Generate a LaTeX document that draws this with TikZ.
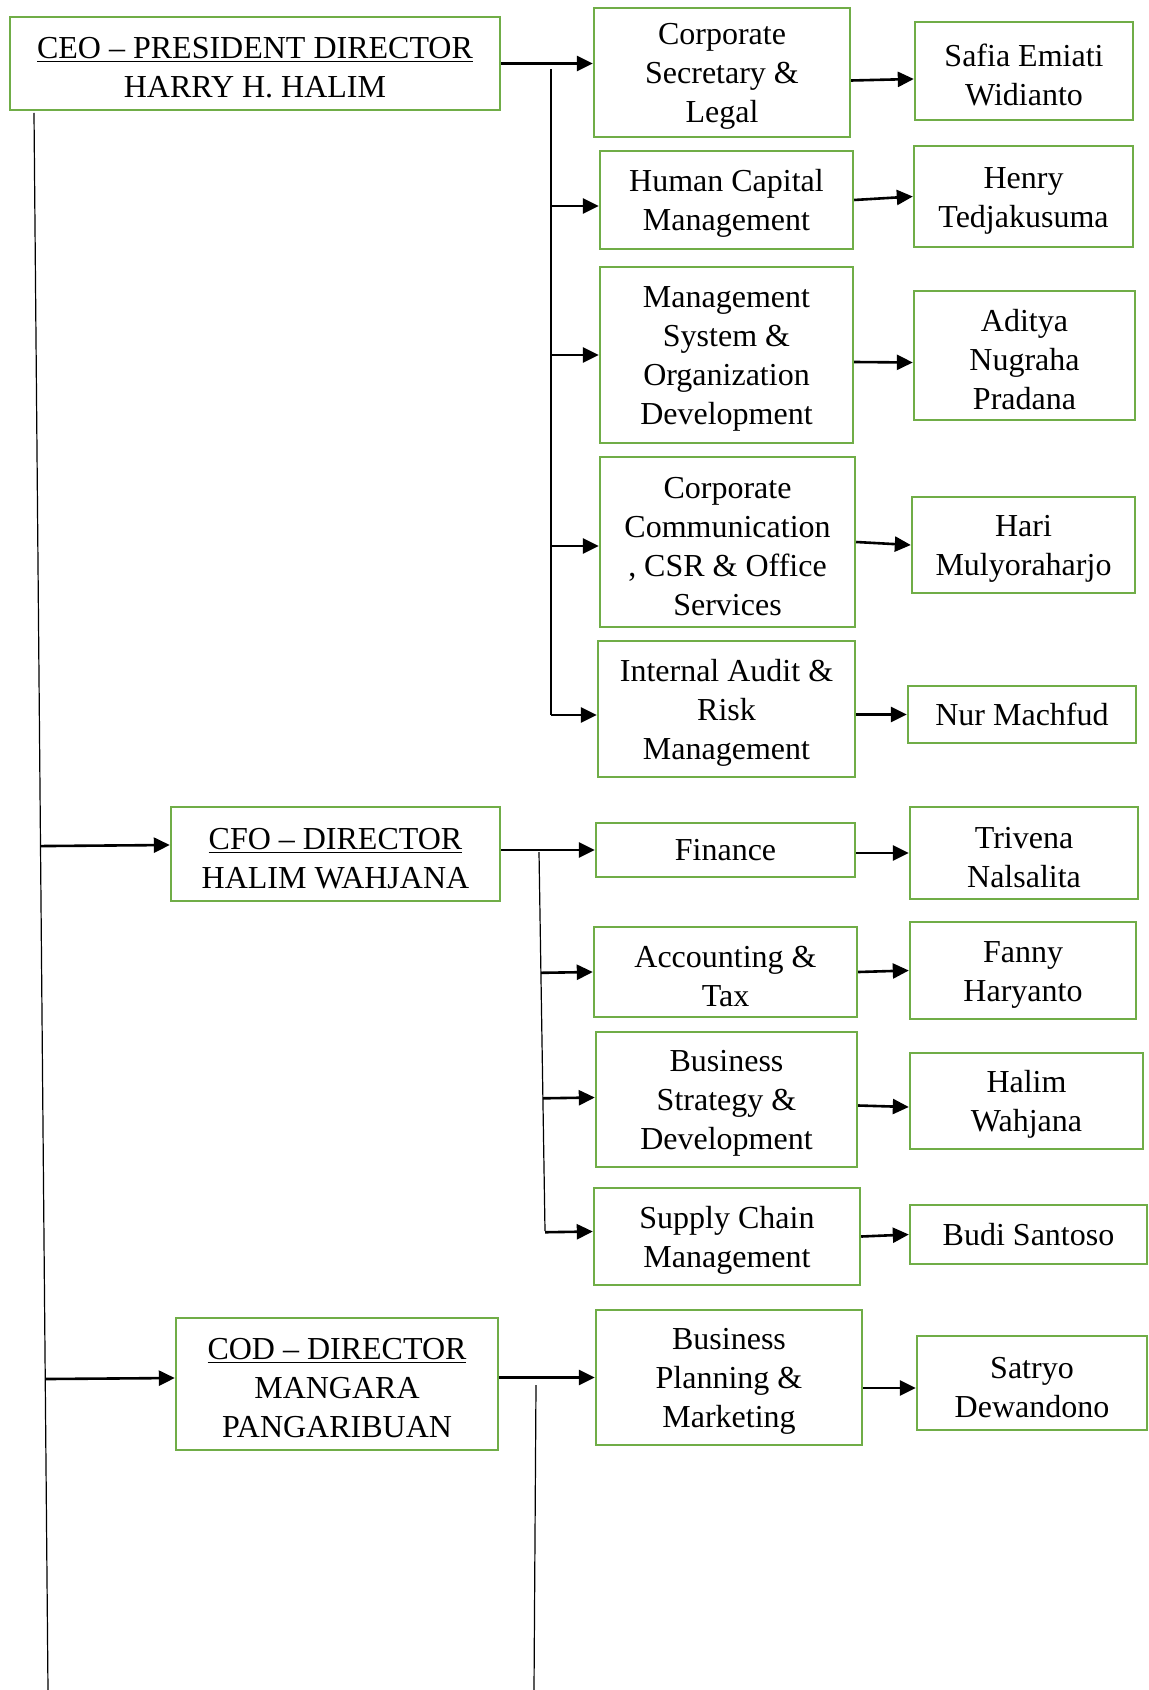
\documentclass[tikz,border=0pt]{standalone}
\usepackage{fontspec}
\setmainfont{Liberation Serif}
\usetikzlibrary{arrows.meta,calc}
\definecolor{boxgreen}{HTML}{70AD47}
\newcommand{\tstrut}{\rule{0pt}{14.8pt}}

\tikzset{
  box/.style={draw=boxgreen,line width=1.2pt,align=center,inner sep=0pt,font=\fontsize{16}{19.5}\selectfont},
  arr/.style={-{Triangle[length=8pt,width=7.5pt]},line width=1.3pt},
  trunk/.style={line width=0.6pt}
}

\begin{document}
\begin{tikzpicture}[x=0.5pt,y=-0.5pt]
\useasboundingbox (0,0) rectangle (1149,1690);

% Directors
\node[box,minimum width=245pt,minimum height=46.5pt] (ceo) at (255,63.5) {\tstrut\underline{CEO -- PRESIDENT DIRECTOR}\\HARRY H. HALIM};
\node[box,minimum width=164.5pt,minimum height=47pt] (cfo) at (335.5,854) {\tstrut\underline{CFO -- DIRECTOR}\\HALIM WAHJANA};
\node[box,minimum width=161pt,minimum height=66pt] (cod) at (337,1384) {\tstrut\underline{COD -- DIRECTOR}\\MANGARA\\PANGARIBUAN};

% CEO units
\node[box,minimum width=128pt,minimum height=64.5pt] (corpsec) at (722,72.5) {\tstrut Corporate\\Secretary \&\\Legal};
\node[box,minimum width=126.5pt,minimum height=49pt] (hcm) at (726.5,200) {\tstrut Human Capital\\Management};
\node[box,minimum width=126.5pt,minimum height=88pt] (msod) at (726.5,355) {\tstrut Management\\System \&\\Organization\\Development};
\node[box,minimum width=127.5pt,minimum height=85pt] (ccsr) at (727.5,542) {\tstrut Corporate\\Communication\\, CSR \& Office\\Services};
\node[box,minimum width=128.5pt,minimum height=68pt] (iarm) at (726.5,709) {\tstrut Internal Audit \&\\Risk\\Management};

% CEO unit heads
\node[box,minimum width=109pt,minimum height=49pt] (safia) at (1024,71) {\tstrut Safia Emiati\\Widianto};
\node[box,minimum width=109.5pt,minimum height=50.5pt] (henry) at (1023.5,196.5) {\tstrut Henry\\Tedjakusuma};
\node[box,minimum width=110.5pt,minimum height=64.5pt] (aditya) at (1024.5,355.5) {\tstrut Aditya\\Nugraha\\Pradana};
\node[box,minimum width=111.5pt,minimum height=48pt] (hari) at (1023.5,545) {\tstrut Hari\\Mulyoraharjo};
\node[box,minimum width=114pt,minimum height=28.5pt] (nur) at (1022,714.5) {Nur Machfud};

% CFO units
\node[box,minimum width=129.5pt,minimum height=27pt] (finance) at (725.5,850) {Finance};
\node[box,minimum width=131.5pt,minimum height=45pt] (acct) at (725.5,972) {\tstrut Accounting \&\\Tax};
\node[box,minimum width=130.5pt,minimum height=67.5pt] (bsd) at (726.5,1099.5) {\tstrut Business\\Strategy \&\\Development};
\node[box,minimum width=133pt,minimum height=48.5pt] (scm) at (727,1236.5) {\tstrut Supply Chain\\Management};

% CFO unit heads
\node[box,minimum width=114pt,minimum height=46pt] (trivena) at (1024,853) {\tstrut Trivena\\Nalsalita};
\node[box,minimum width=113pt,minimum height=48.5pt] (fanny) at (1023,970.5) {\tstrut Fanny\\Haryanto};
\node[box,minimum width=116.5pt,minimum height=48pt] (halim) at (1026.5,1101) {\tstrut Halim\\Wahjana};
\node[box,minimum width=118.5pt,minimum height=29.5pt] (budi) at (1028.5,1234.5) {Budi Santoso};

% COD unit and head
\node[box,minimum width=133pt,minimum height=67.5pt] (bpm) at (729,1377.5) {\tstrut Business\\Planning \&\\Marketing};
\node[box,minimum width=115pt,minimum height=47pt] (satryo) at (1032,1383) {\tstrut Satryo\\Dewandono};

% Main trunk
\coordinate (ltop) at (34,113);
\coordinate (lbot) at (48,1690);
\draw[trunk] (ltop) -- (lbot);
\draw[arr] ($(ltop)!([yshift=4.5pt]cfo.west)!(lbot)$) -- ([yshift=4.5pt]cfo.west);
\draw[arr] ($(ltop)!([yshift=3pt]cod.west)!(lbot)$) -- ([yshift=3pt]cod.west);

% CEO branch
\coordinate (s1top) at (551,69);
\draw[arr] (ceo.east) -- (ceo.east -| corpsec.west);
\draw[trunk] (s1top) -- ([yshift=-3pt]iarm.west -| s1top);
\foreach \u/\d in {hcm/-3pt,msod/0pt,ccsr/-2pt,iarm/-3pt}
  \draw[arr] ([yshift=\d]\u.west -| s1top) -- ([yshift=\d]\u.west);
\draw[arr] ([yshift=-4pt]corpsec.east) -- ([yshift=-4pt]safia.west);
\draw[arr] (hcm.east) -- (henry.west);
\draw[arr] ([yshift=-3.5pt]msod.east) -- ([yshift=-3.5pt]aditya.west);
\draw[arr] (ccsr.east) -- (hari.west);
\draw[arr] (nur.west -| iarm.east) -- (nur.west);

% CFO branch
\coordinate (s2top) at (539,852);
\coordinate (s2bot) at (545,1231);
\draw[arr] (finance.west -| cfo.east) -- (finance.west);
\draw[trunk] (s2top) -- (s2bot);
\foreach \u/\d in {acct/0pt,bsd/1pt,scm/2.5pt}
  \draw[arr] ($(s2top)!([yshift=\d]\u.west)!(s2bot)$) -- ([yshift=\d]\u.west);
\draw[arr] (trivena.west -| finance.east) -- (trivena.west);
\draw[arr] (acct.east) -- (fanny.west);
\draw[arr] ([yshift=-3pt]bsd.east) -- ([yshift=-3pt]halim.west);
\draw[arr] (scm.east) -- (budi.west);

% COD branch
\coordinate (s3top) at (536,1385);
\coordinate (s3bot) at (534,1690);
\draw[arr] (bpm.west -| cod.east) -- (bpm.west);
\draw[trunk] (s3top) -- (s3bot);
\draw[arr] ([yshift=-2.5pt]satryo.west -| bpm.east) -- ([yshift=-2.5pt]satryo.west);

\end{tikzpicture}
\end{document}
